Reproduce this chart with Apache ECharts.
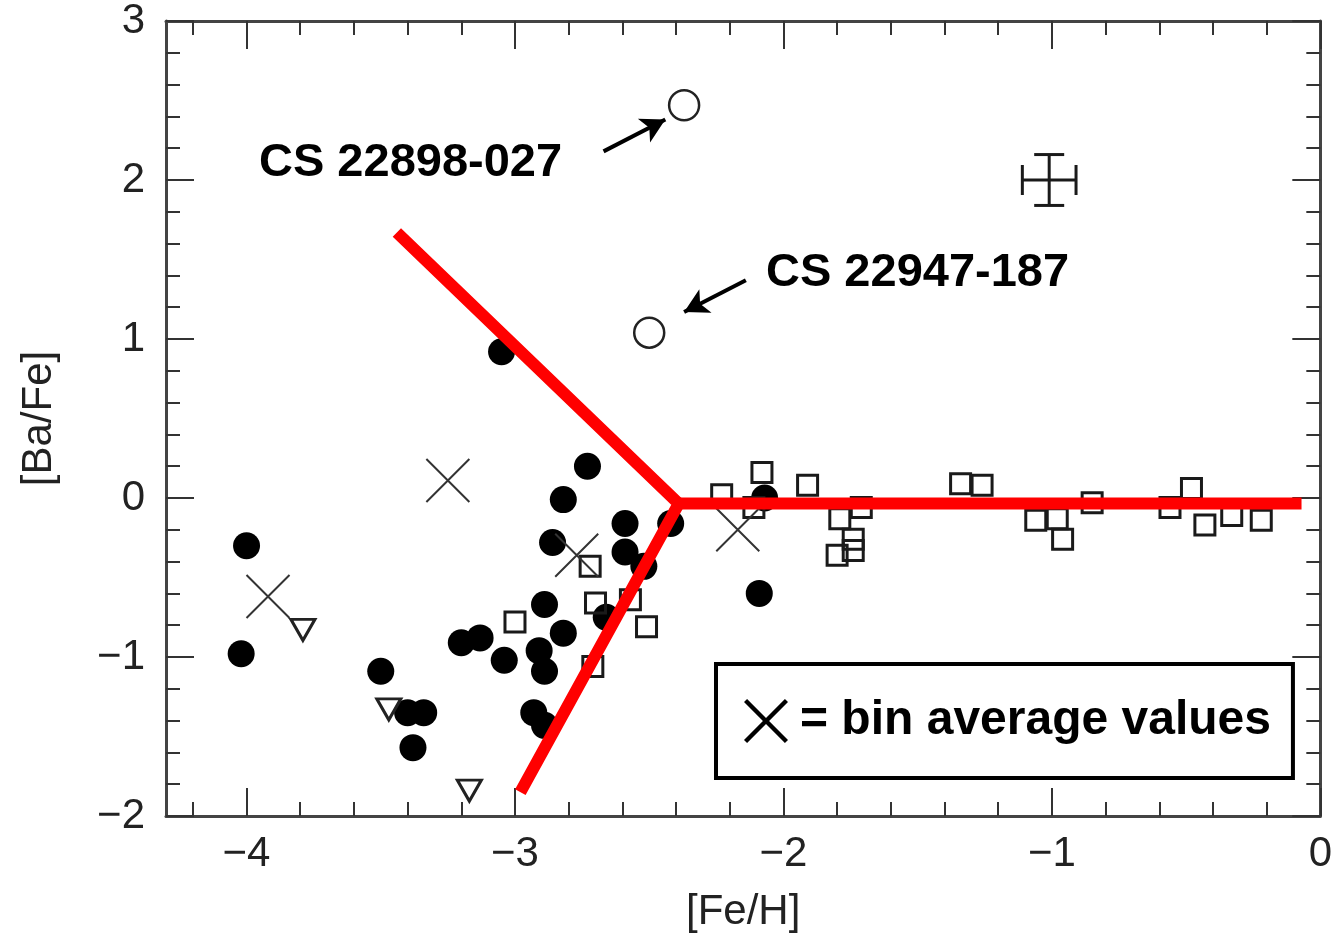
<!DOCTYPE html>
<html>
<head>
<meta charset="utf-8">
<title>[Ba/Fe] vs [Fe/H]</title>
<script src="https://cdn.jsdelivr.net/npm/echarts@6/dist/echarts.min.js"></script>
<style>
html,body{margin:0;padding:0;background:#fff;}
#chart{width:1335px;height:939px;}
</style>
</head>
<body>
<div id="chart"></div>
<script>
// values: [Fe/H], [Ba/Fe]
var filledStars = [[-4.00,-0.30],[-4.02,-0.98],[-3.50,-1.09],[-3.40,-1.35],[-3.34,-1.35],[-3.38,-1.57],
  [-3.05,0.92],[-2.73,0.20],[-2.82,-0.01],[-2.59,-0.16],[-2.42,-0.16],[-2.86,-0.28],[-2.59,-0.34],
  [-2.52,-0.43],[-2.66,-0.75],[-2.89,-0.67],[-2.82,-0.85],[-3.20,-0.91],[-3.13,-0.88],[-3.04,-1.02],
  [-2.91,-0.96],[-2.89,-1.09],[-2.93,-1.35],[-2.89,-1.43],[-2.07,0.00],[-2.09,-0.60]];
var openSquares = [[-3.00,-0.78],[-2.72,-0.43],[-2.70,-0.66],[-2.57,-0.64],[-2.51,-0.81],[-2.71,-1.06],
  [-2.23,0.02],[-2.11,-0.06],[-2.08,0.16],[-1.91,0.08],[-1.79,-0.13],[-1.71,-0.06],[-1.74,-0.26],
  [-1.74,-0.33],[-1.80,-0.36],[-1.34,0.09],[-1.26,0.08],[-1.06,-0.14],[-0.98,-0.13],[-0.96,-0.26],
  [-0.85,-0.03],[-0.56,-0.06],[-0.48,0.06],[-0.43,-0.17],[-0.33,-0.11],[-0.22,-0.14]];
var openCircles = [[-2.37,2.47],[-2.50,1.04]];
var upperLimits = [[-3.79,-0.83],[-3.47,-1.33],[-3.17,-1.84]];
var binAverages = [[-3.92,-0.62],[-3.25,0.11],[-2.77,-0.36],[-2.17,-0.20]];
// x, y, x error, y error
var errorBar = [[-1.01,2.00,0.10,0.16]];
var redBranch = [[-3.44,1.67],[-2.39,-0.035],[-2.98,-1.85]];
var redFlat = [[-2.39,-0.035],[-0.07,-0.035]];
var arrows = [[[-2.67,2.18],[-2.44,2.38]], [[-2.14,1.37],[-2.37,1.17]]];
var starNames = ['CS 22898-027', 'CS 22947-187'];

var xMajor = [-4,-3,-2,-1,0];
var xMinor = [-4.2,-3.8,-3.6,-3.4,-3.2,-2.8,-2.6,-2.4,-2.2,-1.8,-1.6,-1.4,-1.2,-0.8,-0.6,-0.4,-0.2];
var yMajor = [-2,-1,0,1,2,3];
var yMinor = [-1.8,-1.6,-1.4,-1.2,-0.8,-0.6,-0.4,-0.2,0.2,0.4,0.6,0.8,1.2,1.4,1.6,1.8,2.2,2.4,2.6,2.8];

var tickFont = "'Liberation Sans', Arial, sans-serif";
var boldFont = "'Liberation Sans', Arial, sans-serif";

function minusFmt(v) {
	return (v < 0 ? '\u2212' : '') + Math.abs(v);
}

function makeAxis(kind, pos, ticks, len, withLabels) {
	var ax = {
		type: 'value',
		position: pos,
		min: kind == 'x' ? -4.3 : -2,
		max: kind == 'x' ? 0 : 3,
		splitLine: {show: false},
		axisLine: {show: withLabels !== undefined, onZero: false, lineStyle: {color: '#444', width: 3}},
		axisTick: {show: true, inside: true, length: len, customValues: ticks, lineStyle: {color: '#333', width: 2}},
		axisLabel: {show: false}
	};
	if (withLabels) {
		ax.axisLabel = {
			show: true,
			customValues: kind == 'x' ? xMajor : yMajor,
			formatter: minusFmt,
			fontFamily: tickFont,
			fontSize: 42,
			color: '#222',
			margin: kind == 'x' ? 17 : 21,
			showMinLabel: true,
			showMaxLabel: true
		};
		ax.name = kind == 'x' ? '[Fe/H]' : '[Ba/Fe]';
		ax.nameLocation = 'middle';
		ax.nameGap = kind == 'x' ? 75 : 106;
		ax.nameTextStyle = {fontFamily: tickFont, fontSize: 42, color: '#222'};
	}
	return ax;
}

// X drawn as a filled polygon for the legend key
var xIcon = 'path://M0,7L7,0L50,43L93,0L100,7L57,50L100,93L93,100L50,57L7,100L0,93L43,50Z';

var chart = echarts.init(document.getElementById('chart'));
var option = {
	animation: false,
	backgroundColor: '#fff',
	grid: {left: 166, right: 10, top: 21, bottom: 123},
	xAxis: [
		makeAxis('x', 'bottom', xMajor, 28, true),
		makeAxis('x', 'bottom', xMinor, 14),
		makeAxis('x', 'top', xMajor, 28, false),
		makeAxis('x', 'top', xMinor, 14)
	],
	yAxis: [
		makeAxis('y', 'left', yMajor, 28, true),
		makeAxis('y', 'left', yMinor, 14),
		makeAxis('y', 'right', yMajor, 28, false),
		makeAxis('y', 'right', yMinor, 14)
	],
	legend: {
		left: 716,
		top: 664,
		data: [{name: 'bin', icon: xIcon}],
		itemWidth: 44,
		itemHeight: 44,
		padding: [33, 22, 33, 28],
		borderColor: '#000',
		borderWidth: 4,
		selectedMode: false,
		formatter: function () { return '= bin average values'; },
		itemStyle: {color: '#000', borderWidth: 0, opacity: 1},
		textStyle: {fontFamily: boldFont, fontSize: 48, fontWeight: 'bold', color: '#000', padding: [0, 0, 0, 7]}
	},
	graphic: [
		{type: 'text', x: 259, y: 163, style: {text: starNames[0], fontFamily: boldFont, fontSize: 47, fontWeight: 'bold', fill: '#000', verticalAlign: 'middle'}},
		{type: 'text', x: 766, y: 273, style: {text: starNames[1], fontFamily: boldFont, fontSize: 47, fontWeight: 'bold', fill: '#000', verticalAlign: 'middle'}}
	],
	series: [
		{
			name: 'detections',
			type: 'scatter',
			data: filledStars,
			symbol: 'circle',
			symbolSize: 27,
			itemStyle: {color: '#000', opacity: 1},
			silent: true,
			z: 2
		},
		{
			name: 'squares',
			type: 'scatter',
			data: openSquares,
			symbol: 'rect',
			symbolSize: 20,
			itemStyle: {color: 'rgba(0,0,0,0)', borderColor: '#1a1a1a', borderWidth: 3, opacity: 1},
			silent: true,
			z: 3
		},
		{
			name: 'limits',
			type: 'scatter',
			data: upperLimits,
			symbol: 'triangle',
			symbolRotate: 180,
			symbolSize: [24, 21],
			itemStyle: {color: 'rgba(0,0,0,0)', borderColor: '#222', borderWidth: 3, opacity: 1},
			silent: true,
			z: 3
		},
		{
			name: 'bin',
			type: 'scatter',
			data: binAverages,
			symbol: 'path://M0,0L40,40M40,0L0,40',
			symbolSize: 43,
			itemStyle: {color: 'rgba(0,0,0,0)', borderColor: '#333', borderWidth: 2, opacity: 1},
			silent: true,
			z: 4
		},
		{
			name: 'rich stars',
			type: 'scatter',
			data: openCircles,
			symbol: 'circle',
			symbolSize: 30,
			itemStyle: {color: 'rgba(0,0,0,0)', borderColor: '#222', borderWidth: 2.5, opacity: 1},
			silent: true,
			z: 3,
			markLine: {
				silent: true,
				symbol: ['none', 'arrow'],
				symbolSize: [20, 24],
				label: {show: false},
				lineStyle: {color: '#000', width: 4, type: 'solid', opacity: 1},
				data: arrows.map(function (a) { return [{coord: a[0]}, {coord: a[1]}]; })
			}
		},
		{
			name: 'typical error',
			type: 'custom',
			data: errorBar,
			silent: true,
			z: 3,
			encode: {x: 0, y: 1},
			renderItem: function (params, api) {
				var x = api.value(0), y = api.value(1), dx = api.value(2), dy = api.value(3);
				var l = api.coord([x - dx, y]), r = api.coord([x + dx, y]);
				var t = api.coord([x, y + dy]), b = api.coord([x, y - dy]);
				var cap = 15;
				var st = {stroke: '#1a1a1a', lineWidth: 3};
				return {type: 'group', children: [
					{type: 'line', shape: {x1: l[0], y1: l[1], x2: r[0], y2: r[1]}, style: st},
					{type: 'line', shape: {x1: t[0], y1: t[1], x2: b[0], y2: b[1]}, style: st},
					{type: 'line', shape: {x1: l[0], y1: l[1] - cap, x2: l[0], y2: l[1] + cap}, style: st},
					{type: 'line', shape: {x1: r[0], y1: r[1] - cap, x2: r[0], y2: r[1] + cap}, style: st},
					{type: 'line', shape: {x1: t[0] - cap, y1: t[1], x2: t[0] + cap, y2: t[1]}, style: st},
					{type: 'line', shape: {x1: b[0] - cap, y1: b[1], x2: b[0] + cap, y2: b[1]}, style: st}
				]};
			}
		},
		{
			name: 'red branch',
			type: 'line',
			data: redBranch,
			symbol: 'none',
			lineStyle: {color: '#ff0000', width: 12, cap: 'butt', join: 'miter'},
			silent: true,
			z: 10
		},
		{
			name: 'red flat',
			type: 'line',
			data: redFlat,
			symbol: 'none',
			lineStyle: {color: '#ff0000', width: 12, cap: 'butt'},
			silent: true,
			z: 10
		}
	]
};
chart.setOption(option);
</script>
</body>
</html>
